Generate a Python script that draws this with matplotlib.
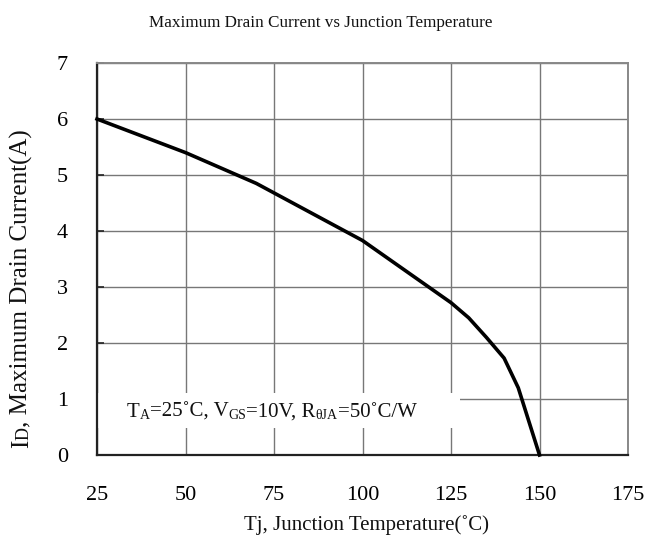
import matplotlib
matplotlib.use("Agg")
import matplotlib.pyplot as plt
from matplotlib.patches import Rectangle

plt.rcParams['font.family'] = ['Liberation Serif', 'DejaVu Serif']

# Data
temperature = [25, 50, 70, 100, 125, 130, 135, 140, 144, 150]
drain_current = [6.0, 5.4, 4.85, 3.83, 2.72, 2.45, 2.1, 1.73, 1.2, 0.0]
x_ticks = [25, 50, 75, 100, 125, 150, 175]
y_ticks = [0, 1, 2, 3, 4, 5, 6, 7]

title = "Maximum Drain Current vs Junction Temperature"
xlabel = "Tj, Junction Temperature(˚C)"

fig = plt.figure(figsize=(6.56, 5.38), dpi=100)
ax = fig.add_axes([97/656, 1-455/538, (628-97)/656, (455-63)/538])

ax.set_xlim(25, 175)
ax.set_ylim(0, 7)
ax.set_xticks(x_ticks)
ax.set_yticks(y_ticks)
ax.set_axisbelow(True)
ax.grid(True, color='#777777', linewidth=1.0)

ax.plot(temperature, drain_current, color='black', linewidth=2.6, zorder=3,
        solid_joinstyle='miter', clip_on=False)

# white background behind the condition note
ax.add_patch(Rectangle((25, 0.48), 102.5, 0.63, facecolor='white',
                       edgecolor='none', zorder=1))

for s in ['left', 'bottom']:
    ax.spines[s].set_color('#222222')
    ax.spines[s].set_linewidth(1.6)
for s in ['top', 'right']:
    ax.spines[s].set_color('#888888')
    ax.spines[s].set_linewidth(1.4)

ax.tick_params(axis='y', direction='in', length=5, width=1.2, color='#222222',
               pad=21, labelsize=16)
ax.tick_params(axis='x', direction='in', length=0, pad=22, labelsize=16)


def rich_text(x, y, pieces, rotation=0, color='#111111'):
    s, sz = pieces[0]
    if rotation == 0:
        t = fig.text(x, y, s, fontsize=sz, ha='left', va='baseline', color=color)
    else:
        t = fig.text(x, y, s, fontsize=sz, ha='right', va='bottom',
                     rotation=90, color=color)
    for s, sz in pieces[1:]:
        if rotation == 0:
            t = fig.add_artist(matplotlib.text.Annotation(
                s, xy=(1, 0), xycoords=t, va='bottom', ha='left',
                fontsize=sz, color=color))
        else:
            t = fig.add_artist(matplotlib.text.Annotation(
                s, xy=(1, 1), xycoords=t, va='bottom', ha='right',
                rotation=90, fontsize=sz, color=color))
    return t


big, small = 15, 10
rich_text(127/656, 1-417/538,
          [("T", big), ("A", small), ("=25˚C, V", big), ("GS", small),
           ("=10V, R", big), ("θJA", small), ("=50˚C/W", big)])

rich_text(33/656, 1-448/538,
          [("I", 18), ("D", 13), (", Maximum Drain Current(A)", 18)],
          rotation=90)

fig.text(366/656, 1-530/538, xlabel, fontsize=15, ha='center',
         va='baseline', color='#111111')
fig.text(321/656, 1-27/538, title, fontsize=12.3, ha='center',
         va='baseline', color='#111111')

fig.savefig("out.png", dpi=100)
